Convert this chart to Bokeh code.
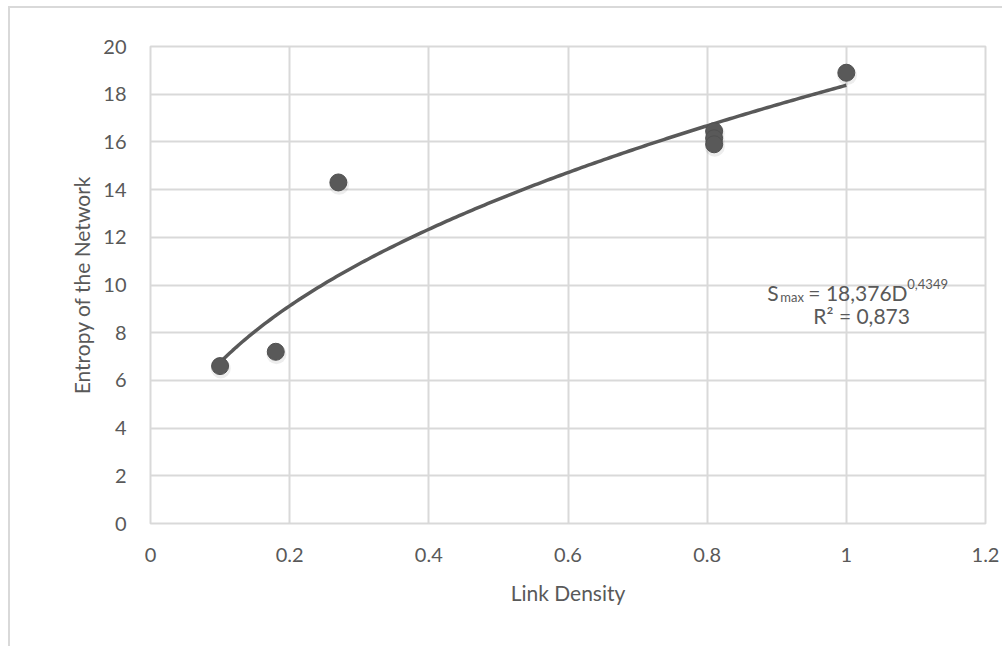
import numpy as np
from bokeh.plotting import figure
from bokeh.models import Range1d, Label, FixedTicker
from bokeh.embed import file_html
from bokeh.resources import INLINE

# ---- data ----
link_density = [0.10, 0.18, 0.27, 0.81, 0.81, 0.81, 1.00]
entropy = [6.6, 7.2, 14.3, 16.45, 16.15, 15.9, 18.9]

x_ticks = [0, 0.2, 0.4, 0.6, 0.8, 1.0, 1.2]
x_tick_labels = ["0", "0.2", "0.4", "0.6", "0.8", "1", "1.2"]
y_ticks = [0, 2, 4, 6, 8, 10, 12, 14, 16, 18, 20]
y_tick_labels = [str(v) for v in y_ticks]

# power trendline S = a * D^b (as printed on the chart)
fit_a = 18.376
fit_b = 0.4349
fit_r2_text = "R\u00b2 = 0,873"

FONT = "Lato"
TXT = "#595959"
GRID = "#d9d9d9"
MARK = "#595959"

p = figure(width=994, height=640, output_backend="svg", toolbar_location=None,
           x_range=Range1d(0, 1.2), y_range=Range1d(0, 20),
           min_border_left=140, min_border_right=19, min_border_top=38,
           min_border_bottom=125)
p.styles = {"margin-left": "8px", "margin-top": "6px",
            "border-left": "2px solid #d9d9d9", "border-top": "2px solid #d9d9d9"}

p.background_fill_color = "white"
p.border_fill_color = "white"
p.outline_line_color = GRID
p.outline_line_width = 2

p.xaxis.ticker = FixedTicker(ticks=x_ticks)
p.yaxis.ticker = FixedTicker(ticks=y_ticks)
p.xaxis.major_label_overrides = {t: l for t, l in zip(x_ticks, x_tick_labels)}
p.yaxis.major_label_overrides = {t: l for t, l in zip(y_ticks, y_tick_labels)}

for ax in (p.xaxis, p.yaxis):
    ax.axis_line_color = None
    ax.major_tick_line_color = None
    ax.minor_tick_line_color = None
    ax.major_tick_out = 0
    ax.major_tick_in = 0
    ax.major_label_text_font = FONT
    ax.major_label_text_font_size = "20px"
    ax.major_label_text_color = TXT
    ax.axis_label_text_font = FONT
    ax.axis_label_text_font_size = "21px"
    ax.axis_label_text_font_style = "normal"
    ax.axis_label_text_color = TXT

p.xaxis.axis_label = "Link Density"
p.yaxis.axis_label = "Entropy of the Network"
p.xaxis.major_label_standoff = 24
p.yaxis.major_label_standoff = 24
p.xaxis.axis_label_standoff = 15
p.yaxis.axis_label_standoff = 6

p.xgrid.grid_line_color = GRID
p.ygrid.grid_line_color = GRID
p.xgrid.grid_line_width = 2
p.ygrid.grid_line_width = 2

# trendline
fx = np.linspace(min(link_density), max(link_density), 200)
fy = fit_a * fx ** fit_b
p.line(fx, fy, line_color=MARK, line_width=3.5)

# soft shadow + markers
p.scatter([x + 0.001 for x in link_density], [y - 0.1 for y in entropy], size=20,
          fill_color="#000000", fill_alpha=0.07, line_color=None)
p.scatter(link_density, entropy, size=17, fill_color=MARK, line_color="#505050",
          line_width=1)

# equation annotation (x given as screen pixel of the reference, converted to data)
def lab(x_px, y_val, text, size, dy=0):
    p.add_layout(Label(x=(x_px - 150) / 696.0, y=y_val,
                       text=text, text_font=FONT, text_font_size=size,
                       text_color=TXT, text_baseline="alphabetic", text_align="left",
                       y_offset=dy))

lab(767, 9.69, "S", "21px")
lab(780, 9.69, "max", "13px", dy=-5)
lab(808, 9.69, "= 18,376D", "21px")
lab(907, 9.69, "0,4349", "13px", dy=8)
lab(813, 8.72, fit_r2_text, "21px")

open("out.html", "w").write(file_html(p, INLINE))
